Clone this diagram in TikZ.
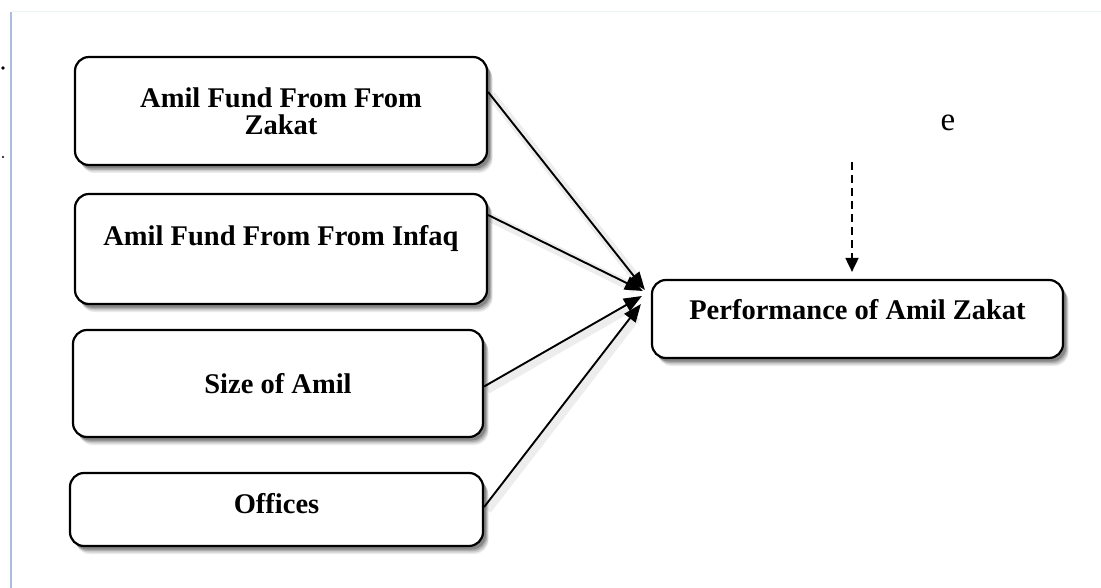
\documentclass[tikz,border=0pt]{standalone}
\usepackage{fontspec}
\setmainfont{Liberation Serif}
\usetikzlibrary{arrows.meta,shadows}
\begin{document}
\begin{tikzpicture}[x=1pt,y=-1pt,
  softshadow/.style={
    general shadow={fill=black, opacity=0.08, shadow xshift=5.5pt, shadow yshift=-8pt},
    general shadow={fill=black, opacity=0.12, shadow xshift=5pt, shadow yshift=-6.5pt},
    general shadow={fill=black, opacity=0.16, shadow xshift=4pt, shadow yshift=-5pt},
    general shadow={fill=black, opacity=0.22, shadow xshift=3pt, shadow yshift=-3.5pt}},
  box/.style={draw=black, line width=2.2pt, rounded corners=14pt, fill=white,
    font=\fontsize{28.5}{27}\selectfont\bfseries, align=center, inner sep=0pt, softshadow},
  arr/.style={line width=1.9pt, -{Triangle[length=18pt,width=14pt]},
    preaction={draw=black, opacity=0.07, line width=9pt, arrows=-, shorten >=12pt,
      transform canvas={shift={(3pt,-3pt)}}}},
  darr/.style={line width=1.8pt, dash pattern=on 8pt off 5pt, -{Triangle[length=14pt,width=13pt]}},
]
\useasboundingbox (0,0) rectangle (1101,588);
% page edge lines
\draw[color={rgb,255:red,170;green,190;blue,220}, line width=2pt] (11,12) -- (11,588);
\draw[color={rgb,255:red,236;green,243;blue,243}, line width=1pt] (12,12) -- (1101,12);
\fill (3,68) circle (1.8pt);
\fill (3,157) circle (1.1pt);

\node[box, minimum width=412pt, minimum height=108pt] (b1) at (281,111) {Amil Fund From From\\Zakat};
\node[box, minimum width=412pt, minimum height=110pt, text height=20pt, text depth=27pt] (b2) at (281,249) {Amil Fund From From Infaq};
\node[box, minimum width=410pt, minimum height=107pt] (b3) at (278,383.5) {Size of Amil};
\node[box, minimum width=413pt, minimum height=73pt, text height=19pt, text depth=11pt] (b4) at (276.5,509.5) {Offices};
\node[box, minimum width=411pt, minimum height=78pt, text height=19pt, text depth=18pt] (p) at (857.5,319) {Performance of Amil Zakat};

\node[font=\fontsize{33}{33}\selectfont] (e) at (948,123) {e};
\coordinate (ds) at (852,162);

\draw[arr] ([yshift=19pt]b1.east) -- ([xshift=-6pt,yshift=29pt]p.west);
\draw[arr] ([yshift=34pt]b2.east) -- ([xshift=-8pt,yshift=28pt]p.west);
\draw[arr] ([yshift=-3pt]b3.east) -- ([xshift=-9pt,yshift=23pt]p.west);
\draw[arr] ([yshift=2.5pt]b4.east) -- ([xshift=-10pt,yshift=15pt]p.west);
\draw[darr, shorten >=7pt] (ds) -- (ds |- p.north);
\end{tikzpicture}
\end{document}
